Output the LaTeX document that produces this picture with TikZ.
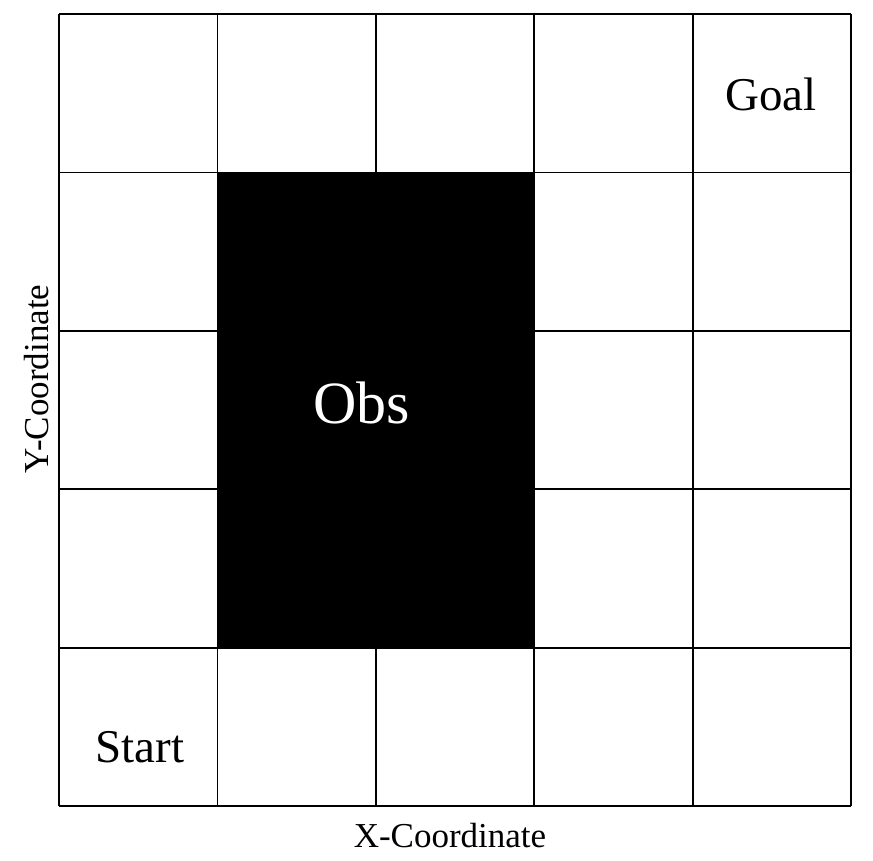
\documentclass[tikz,border=0pt]{standalone}
\usepackage{fontspec}
\setmainfont{Liberation Serif}
\begin{document}
\begin{tikzpicture}[x=1pt,y=-1pt,
  gridline/.style={line width=1.8pt,black},
  celltext/.style={font=\fontsize{47}{50}\selectfont,anchor=base,inner sep=0pt},
  axislabel/.style={font=\fontsize{35}{38}\selectfont,inner sep=0pt}]
\useasboundingbox (0,0) rectangle (873,860);
\fill[black] (217.4,172.4) rectangle (534.2,647.6);
\foreach \i in {0,...,5} {
  \draw[gridline] ({59+158.4*\i},14) -- ({59+158.4*\i},806);
  \draw[gridline] (59,{14+158.4*\i}) -- (851,{14+158.4*\i});
}
\node[celltext] (goal) at (771,110) {Goal};
\node[celltext] (start) at (140,762) {Start};
\node[celltext,text=white,font=\fontsize{60}{64}\selectfont] (obs) at (362,423) {Obs};
\node[axislabel,anchor=base] (xlab) at (450,847) {X-Coordinate};
\node[axislabel,anchor=base,rotate=90] (ylab) at (48,379) {Y-Coordinate};
\end{tikzpicture}
\end{document}
